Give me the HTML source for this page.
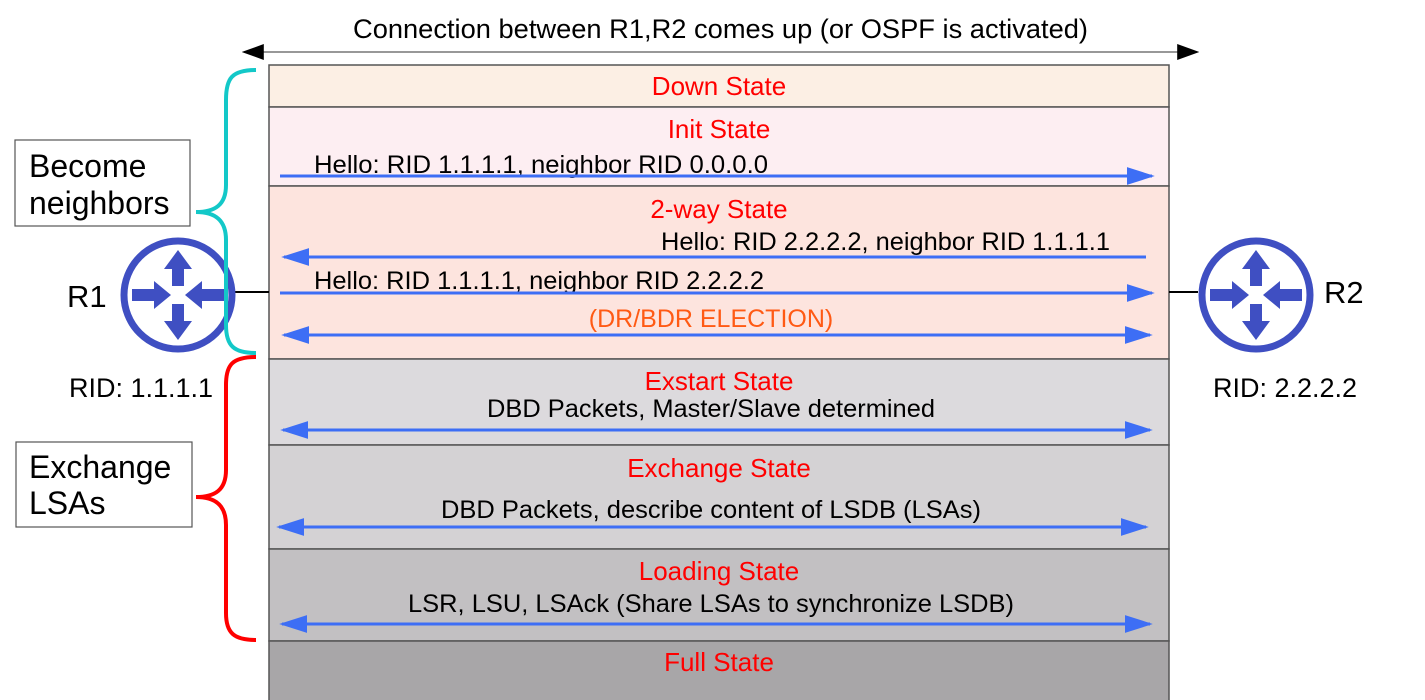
<!DOCTYPE html>
<html><head><meta charset="utf-8"><style>
html,body{margin:0;padding:0;background:#fff;width:1425px;height:700px;overflow:hidden}
svg text{font-family:"Liberation Sans",sans-serif}
</style></head><body>
<svg width="1425" height="700" viewBox="0 0 1425 700" xmlns="http://www.w3.org/2000/svg">
<defs>
<marker id="bh" viewBox="0 0 10 10" refX="9" refY="5" markerWidth="28" markerHeight="18" markerUnits="userSpaceOnUse" orient="auto-start-reverse" preserveAspectRatio="none"><path d="M0,0 L10,5 L0,10 z" fill="#3d6ef5"/></marker>
<marker id="kh" viewBox="0 0 10 10" refX="9" refY="5" markerWidth="22" markerHeight="16" markerUnits="userSpaceOnUse" orient="auto-start-reverse" preserveAspectRatio="none"><path d="M0,0 L10,5 L0,10 z" fill="#000"/></marker>
<g id="rt">
<circle cx="0" cy="0" r="54" fill="#fff" stroke="#3f4fc2" stroke-width="7"/>
<g fill="#3f4fc2">
<path d="M0,-45 L14,-26 L6,-26 L6,-9 L-6,-9 L-6,-26 L-14,-26 z"/>
<path d="M0,45 L14,26 L6,26 L6,9 L-6,9 L-6,26 L-14,26 z"/>
<path d="M-7,0 L-24,-14 L-24,-6 L-46,-6 L-46,6 L-24,6 L-24,14 z"/>
<path d="M7,0 L24,-14 L24,-6 L46,-6 L46,6 L24,6 L24,14 z"/>
</g>
</g>
</defs>
<line x1="244" y1="52" x2="1197" y2="52" stroke="#777" stroke-width="1.5" marker-start="url(#kh)" marker-end="url(#kh)"/>
<text x="353" y="38" font-size="26.5" textLength="735" lengthAdjust="spacingAndGlyphs" fill="#000">Connection between R1,R2 comes up (or OSPF is activated)</text>
<g stroke="#555" stroke-width="1.5">
<rect x="269" y="65" width="900" height="42" fill="#fcefe4"/>
<rect x="269" y="107" width="900" height="79" fill="#fdeef2"/>
<rect x="269" y="186" width="900" height="173" fill="#fde4de"/>
<rect x="269" y="359" width="900" height="86" fill="#dcdadd"/>
<rect x="269" y="445" width="900" height="104" fill="#d4d2d4"/>
<rect x="269" y="549" width="900" height="92" fill="#c2c0c2"/>
<rect x="269" y="641" width="900" height="70" fill="#a8a6a8"/>
</g>
<g fill="#f00" font-size="26" text-anchor="middle">
<text x="719" y="95">Down State</text>
<text x="719" y="138">Init State</text>
<text x="719" y="218">2-way State</text>
<text x="719" y="390">Exstart State</text>
<text x="719" y="477">Exchange State</text>
<text x="719" y="580">Loading State</text>
<text x="719" y="671">Full State</text>
</g>
<g font-size="25" fill="#000">
<text x="314" y="173" textLength="454" lengthAdjust="spacingAndGlyphs">Hello: RID 1.1.1.1, neighbor RID 0.0.0.0</text>
<text x="661" y="250" textLength="449" lengthAdjust="spacingAndGlyphs">Hello: RID 2.2.2.2, neighbor RID 1.1.1.1</text>
<text x="314" y="289" textLength="450" lengthAdjust="spacingAndGlyphs">Hello: RID 1.1.1.1, neighbor RID 2.2.2.2</text>
<text x="487" y="417" textLength="448" lengthAdjust="spacingAndGlyphs">DBD Packets, Master/Slave determined</text>
<text x="441" y="518" textLength="540" lengthAdjust="spacingAndGlyphs">DBD Packets, describe content of LSDB (LSAs)</text>
<text x="408" y="612" textLength="606" lengthAdjust="spacingAndGlyphs">LSR, LSU, LSAck (Share LSAs to synchronize LSDB)</text>
</g>
<text x="711" y="327" font-size="25" fill="#ff5a14" text-anchor="middle">(DR/BDR ELECTION)</text>
<g stroke="#3d6ef5" stroke-width="3">
<line x1="280" y1="176" x2="1152" y2="176" marker-end="url(#bh)"/>
<line x1="1146" y1="257" x2="284" y2="257" marker-end="url(#bh)"/>
<line x1="280" y1="293" x2="1152" y2="293" marker-end="url(#bh)"/>
<line x1="284" y1="335" x2="1150" y2="335" marker-start="url(#bh)" marker-end="url(#bh)"/>
<line x1="283" y1="430" x2="1150" y2="430" marker-start="url(#bh)" marker-end="url(#bh)"/>
<line x1="279" y1="527" x2="1146" y2="527" marker-start="url(#bh)" marker-end="url(#bh)"/>
<line x1="282" y1="624" x2="1150" y2="624" marker-start="url(#bh)" marker-end="url(#bh)"/>
</g>
<line x1="232" y1="292" x2="269" y2="292" stroke="#000" stroke-width="2"/>
<line x1="1169" y1="292" x2="1198" y2="292" stroke="#000" stroke-width="2"/>
<use href="#rt" x="178" y="295"/>
<use href="#rt" x="1256" y="295"/>
<text x="67" y="307" font-size="31" fill="#000">R1</text>
<text x="1324" y="303" font-size="31" fill="#000">R2</text>
<text x="69" y="397" font-size="27" fill="#000">RID: 1.1.1.1</text>
<text x="1213" y="397" font-size="27" fill="#000">RID: 2.2.2.2</text>
<path d="M256,70 C232,70 226,78 226,100 L226,185 C226,205 215,212 196,212 C215,212 226,220 226,240 L226,325 C226,346 234,353 256,353" fill="none" stroke="#13c8c8" stroke-width="4"/>
<path d="M256,357 C232,357 226,365 226,385 L226,470 C226,490 215,497 196,497 C215,497 226,505 226,525 L226,613 C226,633 234,640 256,640" fill="none" stroke="#f00" stroke-width="4"/>
<rect x="15" y="140" width="175" height="86" fill="#fff" stroke="#555" stroke-width="1.2"/>
<text x="29" y="177" font-size="32" fill="#000">Become</text>
<text x="29" y="214" font-size="32" fill="#000">neighbors</text>
<rect x="16" y="442" width="176" height="85" fill="#fff" stroke="#555" stroke-width="1.2"/>
<text x="29" y="478" font-size="32" fill="#000">Exchange</text>
<text x="29" y="514" font-size="32" fill="#000">LSAs</text>
</svg>
</body></html>
